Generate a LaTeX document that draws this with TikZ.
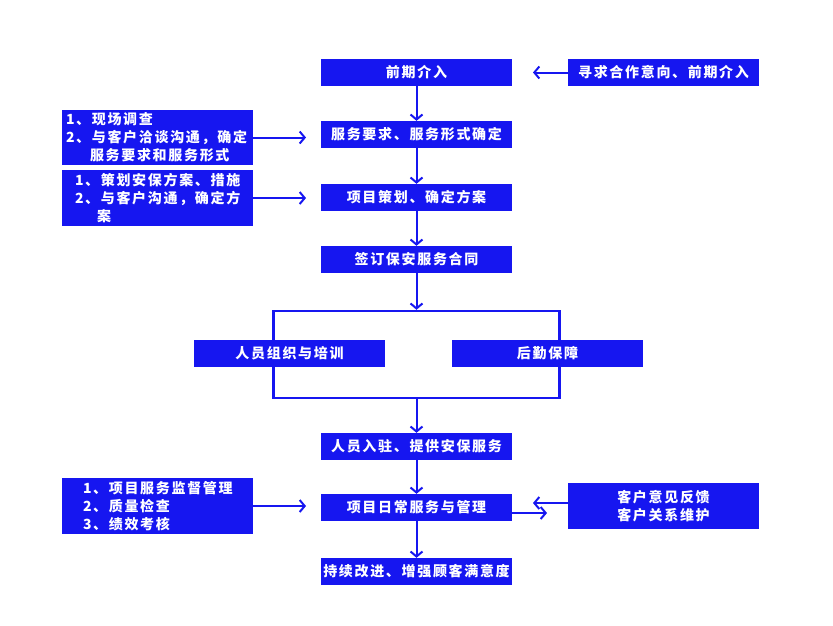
\documentclass[tikz,border=0pt]{standalone}
\usepackage{fontspec}
\setmainfont{Noto Sans CJK SC}[LetterSpace=12]
\usetikzlibrary{arrows.meta}
\definecolor{flowblue}{RGB}{22,22,240}

\begin{document}
\begin{tikzpicture}
    [x=1pt, y=-1pt,
    arr/.style={draw=flowblue, line width=2pt, -{Straight Barb[length=5pt,width=12pt,line width=2pt]}},
    box/.style={fill=flowblue, text=white, inner sep=0pt, minimum width=191pt, minimum height=27pt,
        font=\bfseries\fontsize{14}{18}\selectfont},
    note/.style={box, text width=191pt, align=left},
    frame/.style={draw=flowblue, line width=2.5pt, minimum width=286pt, minimum height=87pt, inner sep=0pt}]
    \useasboundingbox (0,0) rectangle (833,625);

        \node[box] (pre) at (416.5,72.5) {前期介入};
        \node[box] (req) at (416.5,134.5) {服务要求、服务形式确定};
        \node[box] (plan) at (416.5,197.5) {项目策划、确定方案};
        \node[box] (sign) at (416.5,259.5) {签订保安服务合同};
        \node[frame] (split) at (416.5,354.5) {};
        \node[box] (org) at (289.5,353.5) {人员组织与培训};
        \node[box] (logi) at (547.5,353.5) {后勤保障};
        \node[box] (stay) at (416.5,446.5) {人员入驻、提供安保服务};
        \node[box] (daily) at (416.5,507.5) {项目日常服务与管理};
        \node[box] (impr) at (416.5,571.5) {持续改进、增强顾客满意度};

        \node[box] (seek) at (663.5,72.5) {寻求合作意向、前期介入};
        \node[box, minimum height=46pt, align=center] (cust) at (663.5,506) {客户意见反馈\\客户关系维护};

        \node[note, minimum height=55pt] (survey) at (157.5,137.5)
            {\hspace*{4pt}1、现场调查\\\hspace*{4pt}2、与客户洽谈沟通，确定\\\hspace*{28pt}服务要求和服务形式};
        \node[note, minimum height=56pt] (scheme) at (157.5,198)
            {\hspace*{13pt}1、策划安保方案、措施\\\hspace*{13pt}2、与客户沟通，确定方\\\hspace*{35pt}案};
        \node[note, minimum height=56pt] (check) at (157.5,506)
            {\hspace*{21pt}1、项目服务监督管理\\\hspace*{21pt}2、质量检查\\\hspace*{21pt}3、绩效考核};

        \coordinate (seekend) at (533,72.5);
        \coordinate (surveyend) at (306,137.5);
        \coordinate (schemeend) at (306,198);
        \coordinate (checkend) at (306,506);
        \coordinate (custend) at (533,503);
        \coordinate (dailyend) at (547,513);

        \draw[arr] (pre) -- (req);
        \draw[arr] (req) -- (plan);
        \draw[arr] (plan) -- (sign);
        \draw[arr] (sign) -- (split);
        \draw[arr] (split) -- (stay);
        \draw[arr] (stay) -- (daily);
        \draw[arr] (daily) -- (impr);
        \draw[arr] (seek) -- (seekend);
        \draw[arr] (survey) -- (surveyend);
        \draw[arr] (scheme) -- (schemeend);
        \draw[arr] (check) -- (checkend);
        \draw[arr] ([yshift=3pt]cust.west) -- (custend);
        \draw[arr] ([yshift=-5.5pt]daily.east) -- (dailyend);
   \end{tikzpicture}
\end{document}
